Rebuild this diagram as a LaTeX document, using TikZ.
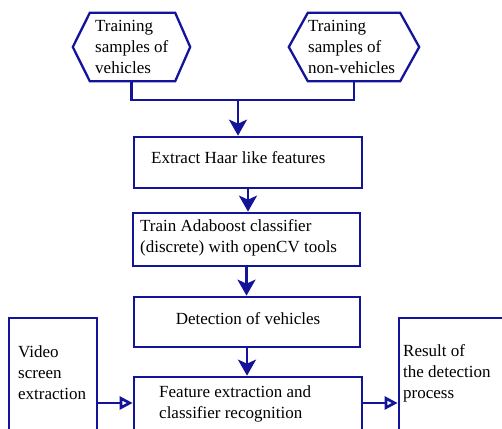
\documentclass[tikz,border=0pt]{standalone}
\usepackage{fontspec}
\setmainfont{Liberation Serif}
\usetikzlibrary{arrows.meta,calc}
\definecolor{navy}{RGB}{20,20,155}
\tikzset{
  flow/.style={draw=navy, line width=2.7pt},
  hexline/.style={draw=navy, line width=2.3pt},
  frame/.style={draw=navy, line width=2.7pt, inner sep=0pt, rectangle},
  hexbase/.style={inner sep=0pt, rectangle},
  lbl/.style={font=\fontsize{17}{21}\selectfont, align=left, inner sep=0pt, text=black},
  solidhead/.style={-{Stealth[length=16pt,width=18pt,inset=4pt]}},
  openhead/.style={-{Triangle[open,length=13pt,width=13pt]}},
}
\begin{document}
\begin{tikzpicture}[x=1pt,y=-1pt]
  \clip (0,0) rectangle (502,428);
  \fill[white] (0,0) rectangle (502,428);

  % sample sources (hexagons)
  \node[hexbase, minimum width=117pt, minimum height=68pt] (hA) at (131.5,47) {};
  \node[hexbase, minimum width=130pt, minimum height=68pt] (hB) at (354,47) {};
  \draw[hexline] (hA.west) -- ($(hA.north west)+(17,0)$) -- ($(hA.north east)+(-15,0)$)
    -- (hA.east) -- ($(hA.south east)+(-15,0)$) -- ($(hA.south west)+(17,0)$) -- cycle;
  \draw[hexline] (hB.west) -- ($(hB.north west)+(19,0)$) -- ($(hB.north east)+(-19,0)$)
    -- (hB.east) -- ($(hB.south east)+(-19,0)$) -- ($(hB.south west)+(19,0)$) -- cycle;
  \node[lbl, anchor=west] (tA) at (95,47) {Training\\samples of\\vehicles};
  \node[lbl, anchor=west] (tB) at (308,47) {Training\\samples of\\non-vehicles};

  % processing steps
  \node[frame, minimum width=228pt, minimum height=51pt] (b1) at (248,162.5) {};
  \node[frame, minimum width=227pt, minimum height=53pt] (b2) at (246.5,239.5) {};
  \node[frame, minimum width=226pt, minimum height=50pt] (b3) at (247,322) {};
  \node[frame, minimum width=228pt, minimum height=68pt] (b4) at (248,411) {};
  \node[frame, minimum width=88pt, minimum height=127pt] (vid) at (53,381.5) {};
  \node[frame, minimum width=122pt, minimum height=127pt] (res) at (460,381.5) {};

  \node[lbl, anchor=west] (t1) at (151,158) {Extract Haar like features};
  \node[lbl, anchor=west] (t2) at (140,238) {Train Adaboost classifier\\(discrete) with openCV tools};
  \node[lbl] (t3) at (248,319) {Detection of vehicles};
  \node[lbl, anchor=west] (t4) at (159,404) {Feature extraction and\\classifier recognition};
  \node[lbl, anchor=west] (tv) at (18,373) {Video\\screen\\extraction};
  \node[lbl, anchor=west] (tr) at (403,373) {Result of\\the detection\\process};

  % connectors
  \coordinate (j) at (238,100);
  \draw[hexline] (hA.south) |- (j) -| (hB.south);
  \draw[flow, solidhead] (j) -- (j |- b1.north);
  \draw[flow, solidhead] (b1.south) -- (b1.south |- b2.north);
  \draw[flow, solidhead] (b2.south) -- (b2.south |- b3.north);
  \draw[flow, solidhead] (b3.south) -- (b3.south |- b4.north);
  \draw[flow, openhead] (vid.east |- 0,403) -- (b4.west |- 0,403);
  \draw[flow, openhead] (b4.east |- 0,403) -- (res.west |- 0,403);
\end{tikzpicture}
\end{document}
